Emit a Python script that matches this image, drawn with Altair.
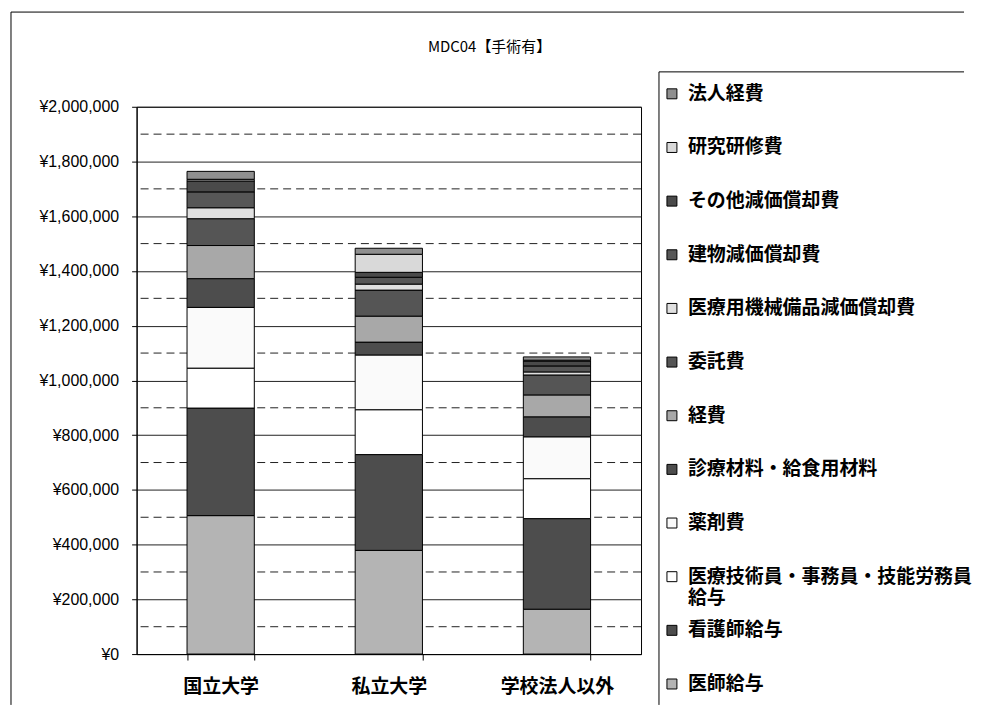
import altair as alt
import pandas as pd

categories = ["国立大学", "私立大学", "学校法人以外"]
# bottom-up stacking order
series = [
    "医師給与",
    "看護師給与",
    "医療技術員・事務員・技能労務員\n給与",
    "薬剤費",
    "診療材料・給食用材料",
    "経費",
    "委託費",
    "医療用機械備品減価償却費",
    "建物減価償却費",
    "その他減価償却費",
    "研究研修費",
    "法人経費",
]
vals_kokuritsu = [506000, 393000, 146000, 222000, 105000, 121000, 98000, 40000, 58000, 40000, 6000, 29000]
vals_shiritsu = [379000, 350000, 164000, 200000, 47000, 95000, 95000, 22000, 25000, 18000, 66000, 22000]
vals_igai = [164000, 331000, 146000, 153000, 73000, 80000, 73000, 11000, 22000, 18000, 3000, 12000]
colors = ["#b4b4b4", "#4d4d4d", "#ffffff", "#fafafa", "#4d4d4d", "#a8a8a8",
          "#555555", "#e0e0e0", "#575757", "#4a4a4a", "#d9d9d9", "#8f8f8f"]
major_ticks = [0, 200000, 400000, 600000, 800000, 1000000, 1200000, 1400000, 1600000, 1800000, 2000000]
minor_grid = [100000, 300000, 500000, 700000, 900000, 1100000, 1300000, 1500000, 1700000, 1900000]

rows = []
for cat, vals in zip(categories, [vals_kokuritsu, vals_shiritsu, vals_igai]):
    for i, (s, v) in enumerate(zip(series, vals)):
        rows.append({"category": cat, "series": s, "idx": i, "value": v})
df = pd.DataFrame(rows)
grid_df = pd.DataFrame({"v": minor_grid})
leg_df = pd.DataFrame({"series": series, "idx": list(range(len(series)))})
one = pd.DataFrame({"k": [0]})

color_scale = alt.Scale(domain=series, range=colors)
y_scale = alt.Scale(domain=[0, 2000000], nice=False)
y_axis = alt.Axis(
    title=None, values=major_ticks, labelExpr="'¥' + format(datum.value, ',')",
    labelFont="Liberation Sans", labelFontSize=16, labelColor="black",
    grid=True, gridColor="#222222", gridWidth=1, tickSize=5, tickColor="black",
    labelPadding=13, domainColor="black",
)

rules = alt.Chart(grid_df).mark_rule(color="#222222", strokeDash=[8, 5], strokeWidth=1).encode(
    y=alt.Y("v:Q", scale=y_scale, axis=y_axis)
)
bars = alt.Chart(df).mark_bar(stroke="black", strokeWidth=1).encode(
    x=alt.X("category:N", sort=categories,
            scale=alt.Scale(paddingInner=0.6, paddingOuter=0.3),
            axis=alt.Axis(title=None, labelAngle=0, labelFont="Noto Sans CJK JP",
                          labelFontSize=19, labelFontWeight="bold", labelColor="black",
                          tickBand="extent", tickSize=6, tickColor="black",
                          domainColor="black", labelPadding=18)),
    y=alt.Y("value:Q", stack="zero", scale=y_scale, axis=y_axis),
    color=alt.Color("series:N", scale=color_scale, legend=None),
    order=alt.Order("idx:Q", sort="ascending"),
)
plot = alt.layer(rules, bars)

leg_y = alt.Y("series:N", scale=alt.Scale(type="point", domain=list(reversed(series)),
                                          range=[-13, 579], padding=0), axis=None)
squares = alt.Chart(leg_df).mark_square(size=100, stroke="black", strokeWidth=1, opacity=1).encode(
    x=alt.value(537), y=leg_y,
    color=alt.Color("series:N", scale=color_scale, legend=None),
)
texts = alt.Chart(leg_df).mark_text(
    align="left", baseline="top", dy=-9, fontSize=19, font="Noto Sans CJK JP",
    fontWeight="bold", lineBreak="\n", lineHeight=21, color="black",
).encode(x=alt.value(553), y=leg_y, text="series:N")
legend = alt.layer(squares, texts)

# frame lines (legend box and outer chart box)
frame_style = dict(color="black", strokeWidth=1)
leg_left = alt.Chart(one).mark_rule(**frame_style).encode(x=alt.value(524), y=alt.value(-35), y2=alt.value(600))
leg_top = alt.Chart(one).mark_rule(**frame_style).encode(x=alt.value(524), x2=alt.value(830), y=alt.value(-35))
out_left = alt.Chart(one).mark_rule(**frame_style).encode(x=alt.value(-126), y=alt.value(-95), y2=alt.value(600))
out_top = alt.Chart(one).mark_rule(**frame_style).encode(x=alt.value(-126), x2=alt.value(830), y=alt.value(-95))
frames = alt.layer(leg_left, leg_top, out_left, out_top)

chart = alt.layer(plot, legend, frames).resolve_scale(y="independent").properties(
    width=506, height=549,
    padding={"left": 2, "top": 2, "right": 0, "bottom": 0},
    title=alt.TitleParams("MDC04【手術有】", font="Noto Sans CJK JP", fontSize=15,
                          fontWeight="normal", color="black", anchor="middle",
                          frame="group", dx=101, offset=-44),
).configure_view(stroke="black", strokeWidth=1)
chart.save("out.html", embed_options={"renderer": "svg", "actions": False})
